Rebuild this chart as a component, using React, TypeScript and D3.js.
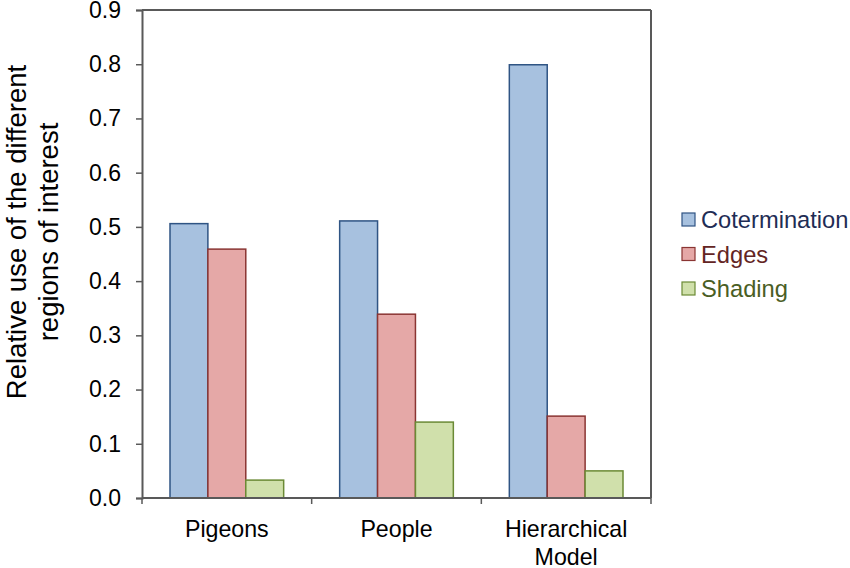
import { useRef, useEffect } from "react";
import * as d3 from "d3";

const categories = ["Pigeons", "People", "Hierarchical\nModel"];
const seriesNames = ["Cotermination", "Edges", "Shading"];
const cotermination = [0.506, 0.511, 0.799];
const edges = [0.459, 0.339, 0.151];
const shading = [0.033, 0.14, 0.05];
const yTicks = [0, 0.1, 0.2, 0.3, 0.4, 0.5, 0.6, 0.7, 0.8, 0.9];

const fills = ["#a7c1df", "#e5a8a7", "#d0e0ab"];
const strokes = ["#2f5484", "#8a3533", "#6b8a35"];
const textColors = ["#1f2d55", "#632523", "#4a5e24"];

const W = 850;
const H = 568;
const plot = { left: 142, right: 651, top: 10, bottom: 498 };
const FONT = "Liberation Sans, Arial, sans-serif";

function App() {
  const svgRef = useRef<SVGSVGElement>(null);

  useEffect(() => {
    const svg = d3.select(svgRef.current);
    svg.selectAll("*").remove();

    const series = [cotermination, edges, shading];

    const x = d3.scaleBand().domain(categories).range([plot.left, plot.right]).padding(0);
    const inner = d3
      .scaleBand()
      .domain(seriesNames)
      .range([28, x.bandwidth() - 28])
      .padding(0);
    const y = d3.scaleLinear().domain([0, 0.9]).range([plot.bottom, plot.top]);

    // frame lines (top and right)
    svg.append("line")
      .attr("x1", plot.left).attr("x2", plot.right)
      .attr("y1", plot.top).attr("y2", plot.top)
      .attr("stroke", "#595959").attr("stroke-width", 2);
    svg.append("line")
      .attr("x1", plot.right).attr("x2", plot.right)
      .attr("y1", plot.top).attr("y2", plot.bottom)
      .attr("stroke", "#595959").attr("stroke-width", 2);

    // bars
    categories.forEach((cat, ci) => {
      seriesNames.forEach((s, si) => {
        const v = series[si][ci];
        svg.append("rect")
          .attr("x", (x(cat) as number) + (inner(s) as number))
          .attr("y", y(v))
          .attr("width", inner.bandwidth())
          .attr("height", plot.bottom - y(v))
          .attr("fill", fills[si])
          .attr("stroke", strokes[si])
          .attr("stroke-width", 1.5);
      });
    });

    // y axis
    const yAxis = svg.append("g")
      .attr("transform", `translate(${plot.left},0)`)
      .call(d3.axisLeft(y).tickValues(yTicks).tickFormat(d3.format(".1f")).tickSize(6).tickPadding(15));
    yAxis.select(".domain").attr("stroke", "#595959").attr("stroke-width", 2);
    yAxis.selectAll(".tick line").attr("stroke", "#595959").attr("stroke-width", 1.5);
    yAxis.selectAll(".tick text")
      .attr("font-family", FONT).attr("font-size", 23).attr("fill", "#000");

    // x axis
    const xAxis = svg.append("g")
      .attr("transform", `translate(0,${plot.bottom})`);
    xAxis.append("line")
      .attr("x1", plot.left).attr("x2", plot.right)
      .attr("stroke", "#595959").attr("stroke-width", 2);
    const bounds = [...categories.map((c) => x(c) as number), plot.right];
    xAxis.selectAll(".xt")
      .data(bounds)
      .join("line")
      .attr("x1", (d) => d).attr("x2", (d) => d)
      .attr("y1", 0).attr("y2", 6)
      .attr("stroke", "#595959").attr("stroke-width", 1.5);
    categories.forEach((cat) => {
      const cx = (x(cat) as number) + x.bandwidth() / 2;
      const t = xAxis.append("text")
        .attr("x", cx)
        .attr("y", 39)
        .attr("text-anchor", "middle")
        .attr("font-family", FONT).attr("font-size", 23.2).attr("fill", "#000");
      cat.split("\n").forEach((line, i) => {
        t.append("tspan")
          .attr("x", cx)
          .attr("dy", i === 0 ? 0 : 28)
          .text(line);
      });
    });

    // y label
    const yl = svg.append("text")
      .attr("transform", `translate(26,232) rotate(-90)`)
      .attr("text-anchor", "middle")
      .attr("font-family", FONT).attr("font-size", 27.5).attr("fill", "#000");
    yl.append("tspan").attr("x", 0).attr("dy", 0).text("Relative use of the different");
    yl.append("tspan").attr("x", 0).attr("dy", 32).text("regions of interest");

    // legend
    const legend = svg.append("g").attr("transform", "translate(682,228)");
    seriesNames.forEach((s, i) => {
      const g = legend.append("g").attr("transform", `translate(0,${i * 34.5})`);
      g.append("rect")
        .attr("x", 0).attr("y", -15).attr("width", 13).attr("height", 13)
        .attr("fill", fills[i]).attr("stroke", strokes[i]).attr("stroke-width", 1.2);
      g.append("text")
        .attr("x", 19).attr("y", 0)
        .attr("font-family", FONT).attr("font-size", 23.7)
        .attr("fill", textColors[i])
        .text(s);
    });
  }, []);

  return (
    <svg
      ref={svgRef}
      width={W}
      height={H}
      style={{ position: "absolute", left: 0, top: 0, background: "#fff" }}
    />
  );
}

export default App;
